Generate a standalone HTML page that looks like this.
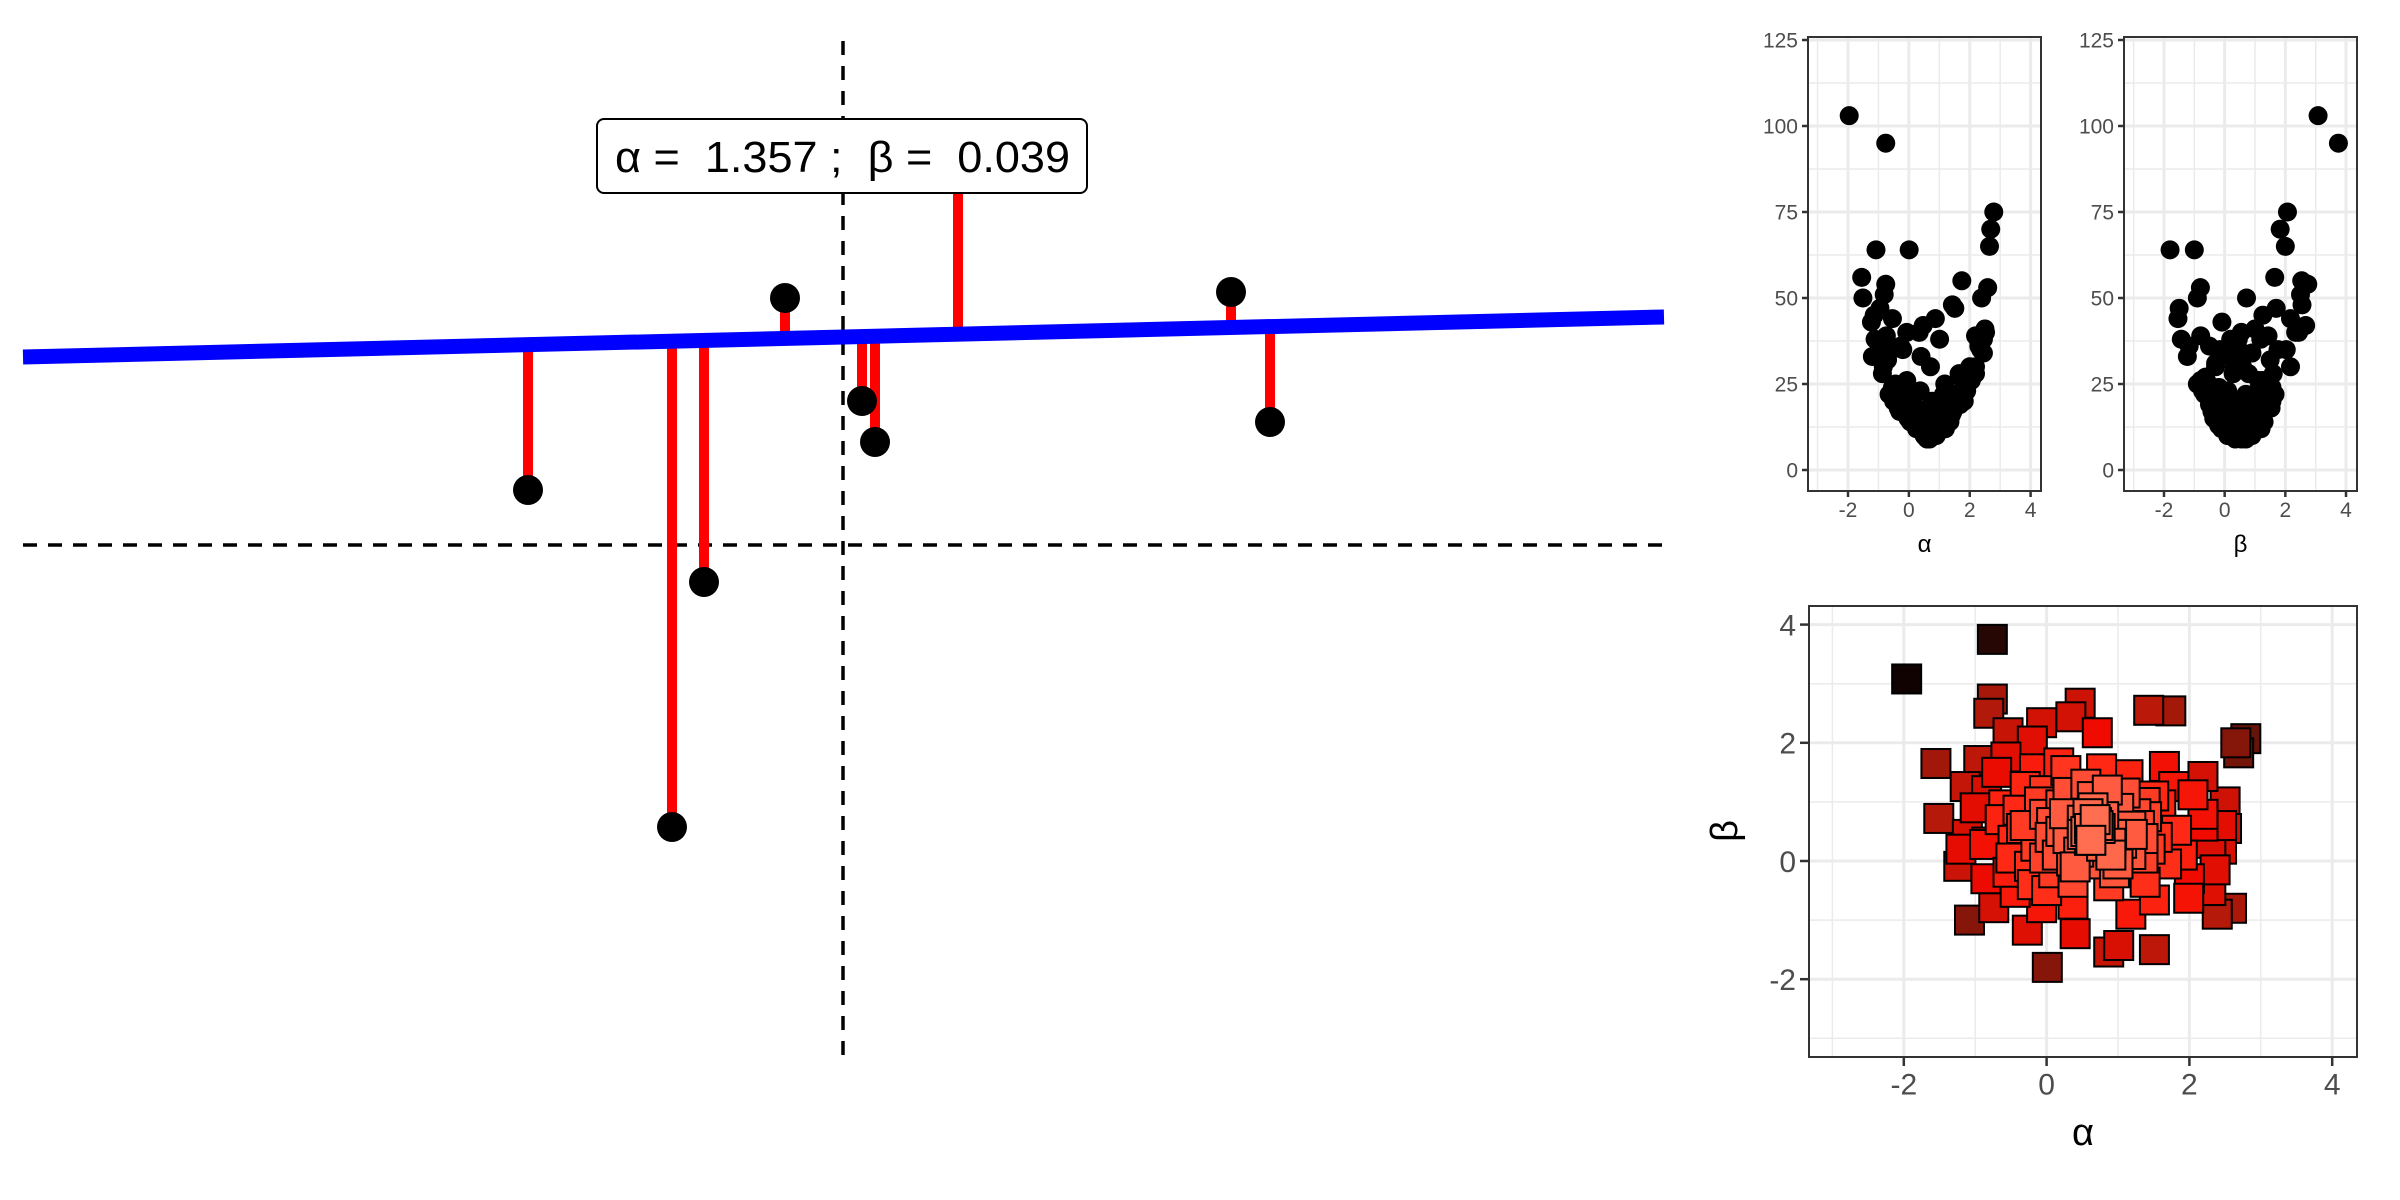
<!DOCTYPE html>
<html><head><meta charset="utf-8"><style>
html,body{margin:0;padding:0;background:#fff;}
svg{display:block;font-family:"Liberation Sans",sans-serif;}
</style></head><body>
<svg id="chart" width="2400" height="1200" viewBox="0 0 2400 1200">
<g id="main"></g>
<g id="pa"></g>
<g id="pb"></g>
<g id="pc"></g>
</svg>
<script>
// ---- main regression panel data ----
const obsX = [-3.15, -1.71, -1.39, -0.58, 0.19, 0.32, 1.15, 3.88, 4.27];
const obsY = [0.55, -2.82, -0.37, 2.47, 1.44, 1.03, 3.92, 2.53, 1.23];
const fitIntercept = 2.08;
const fitSlope = 0.0244;
const labelText = "α =  1.357 ;  β =  0.039";
// ---- parameter search data ----
const alphaVals = [-1.96,-0.76,2.79,2.69,2.65,-1.55,-1.51,-1.08,0.01,-0.76,-0.81,1.43,1.74,2.59,2.39,0.87,1.51,-1.23,-0.74,-0.27,0.40,1.01,2.19,2.36,2.52,2.19,-1.14,-0.84,-1.11,-0.84,-0.54,-0.20,-0.07,0.34,0.47,0.71,-0.57,1.65,1.78,1.14,0.77,0.17,-0.17,-0.03,0.30,-0.40,0.07,0.50,1.01,0.91,1.35,1.82,-0.47,-0.03,0.57,1.35,1.68,0.87,1.51,1.99,-0.44,-0.07,0.37,1.18,-0.54,-0.87,0.30,0.64,1.38,2.05,1.18,0.37,-0.24,0.27,1.18,-0.03,0.77,-0.30,2.19,1.38,2.45,2.50,2.30,-0.95,-1.20,0.60,0.70,0.55,
 -0.60,-0.35,-0.15,0.10,0.20,0.45,0.55,0.80,0.95,1.10,1.25,1.45,1.60,-0.50,-0.20,0.05,0.25,0.65,0.85,1.05,1.30,1.55,-0.65,-0.10,0.15,0.40,0.60,0.90,1.20,1.50,-0.30,0.00,0.35,0.75,1.00,1.40,0.50,0.68,0.20,0.90,-0.85,-1.00,2.00,2.30,2.45,-0.70,1.90,0.62,0.58,0.72];
const betaVals = [3.08,3.75,2.07,1.83,2.00,1.65,0.72,-1.00,-1.80,2.74,2.50,2.55,2.54,-0.80,-0.90,-1.54,-1.50,-0.09,-0.79,-1.17,-1.23,-1.43,1.43,-0.15,0.55,0.59,1.26,1.19,0.45,0.32,2.17,2.03,2.34,2.44,2.67,2.17,1.76,1.60,1.26,1.46,1.56,1.66,1.56,1.19,1.16,0.86,0.65,0.69,0.89,0.45,0.38,0.52,0.35,0.05,-0.05,0.05,-0.05,-0.42,-0.66,-0.63,-0.53,-0.79,-0.73,-0.90,-0.19,0.28,0.38,1.09,0.99,1.12,0.11,-0.36,-0.09,1.53,0.59,0.79,0.25,1.26,0.79,-0.36,0.20,1.00,-0.50,1.70,0.20,0.55,0.65,0.50,
 0.95,0.55,0.25,-0.20,0.95,0.15,1.30,0.75,-0.20,1.15,0.80,0.20,0.95,0.05,-0.40,0.40,0.80,0.90,1.20,0.30,0.60,0.40,0.70,1.00,0.10,-0.10,0.35,0.10,0.45,1.10,0.60,-0.50,0.00,0.55,-0.05,0.75,0.45,0.70,0.50,0.30,-0.30,0.90,-0.30,0.30,0.60,1.50,0.10,0.35,0.80,0.60];
const lossVals = [103,95,75,70,65,56,50,64,64,54,51,48,55,53,50,44,47,43,39,36,33,38,39,35,40,30,45,38,38,30,44,35,40,40,42,30,35,28,26,22,20,22,24,18,14,20,14,11,12,11,14,20,20,16,13,16,19,17,22,27,25,26,23,25,24,28,12,13,17,26,13,15,19,18,12,15,11,21,28,19,38,41,36,47,33,9,10,9.5,
 22,18,17,17,15,12,14,11,13,14,15,17,22,20,19,14,12,10,12,12,15,19,22,17,14,12,10,10,12,20,17,19,14,10,12,16,10,9,13,11,31,34,30,37,34,32,23,9,10,10];
const lossTicks = [0,25,50,75,100,125];
const paramTicks = [-2,0,2,4];

const NS="http://www.w3.org/2000/svg";
function mk(parent,tag,attrs){const e=document.createElementNS(NS,tag);for(const k in attrs)e.setAttribute(k,attrs[k]);parent.appendChild(e);return e;}

// ===== main panel =====
const M=document.getElementById('main');
const mx=v=>843+v*100, my=v=>545-v*100;
let e;
e=mk(M,'line',{x1:23,y1:545,x2:1664,y2:545,stroke:'#000','stroke-width':3.5,'stroke-dasharray':'14,11'});


e=mk(M,'line',{x1:843,y1:41,x2:843,y2:1056,stroke:'#000','stroke-width':3.5,'stroke-dasharray':'14,11'});


for(let i=0;i<obsX.length;i++){
  const fy=fitIntercept+fitSlope*obsX[i];
  e=mk(M,'line',{x1:mx(obsX[i]),y1:my(fy),x2:mx(obsX[i]),y2:my(obsY[i]),stroke:'#ff0000','stroke-width':10});
  
  
}
e=mk(M,'line',{x1:23,y1:my(fitIntercept+fitSlope*(23-843)/100),x2:1664,y2:my(fitIntercept+fitSlope*(1664-843)/100),stroke:'#0000ff','stroke-width':15});


for(let i=0;i<obsX.length;i++){
  e=mk(M,'circle',{cx:mx(obsX[i]),cy:my(obsY[i]),r:15,fill:'#000'});
  
  
}
e=mk(M,'rect',{x:597,y:119,width:490,height:74,rx:7,fill:'#fff',stroke:'#000','stroke-width':2});


e=mk(M,'text',{x:615,y:172,'font-size':44,fill:'#000','xml:space':'preserve',textLength:455,lengthAdjust:'spacingAndGlyphs'});
e.style.whiteSpace='pre';
e.textContent=labelText;



// ===== helper for framed panel =====
function panel(G,x0,x1,y0,y1,sx,sy,xt,yt,minorX,minorY,fs,tickLen){
  minorX.forEach(v=>{const l=mk(G,'line',{x1:sx(v),x2:sx(v),y1:y0,y2:y1,stroke:'#ebebeb','stroke-width':1.5});});
  minorY.forEach(v=>{const l=mk(G,'line',{x1:x0,x2:x1,y1:sy(v),y2:sy(v),stroke:'#ebebeb','stroke-width':1.5});});
  xt.forEach(v=>{const l=mk(G,'line',{x1:sx(v),x2:sx(v),y1:y0,y2:y1,stroke:'#ebebeb','stroke-width':3});});
  yt.forEach(v=>{const l=mk(G,'line',{x1:x0,x2:x1,y1:sy(v),y2:sy(v),stroke:'#ebebeb','stroke-width':3});});
  xt.forEach(v=>{
    const l=mk(G,'line',{x1:sx(v),x2:sx(v),y1:y1,y2:y1+tickLen,stroke:'#333','stroke-width':2.5});
    
    
    const t=mk(G,'text',{x:sx(v),y:y1+tickLen+fs*0.95,'text-anchor':'middle','font-size':fs,fill:'#4d4d4d'});
    t.textContent=v;
    
    
  });
  yt.forEach(v=>{
    const l=mk(G,'line',{x1:x0-tickLen,x2:x0,y1:sy(v),y2:sy(v),stroke:'#333','stroke-width':2.5});
    
    
    const t=mk(G,'text',{x:x0-tickLen-4,y:sy(v)+fs*0.36,'text-anchor':'end','font-size':fs,fill:'#4d4d4d'});
    t.textContent=v;
    
    
  });
}
function frame(G,x0,x1,y0,y1){
  const r=mk(G,'rect',{x:x0,y:y0,width:x1-x0,height:y1-y0,fill:'none',stroke:'#333','stroke-width':2});
  
  
}

// ===== loss vs alpha / beta =====
function lossPanel(id,x0,x1,tickNeg2,tick4,vals,title,tname){
  const G=document.getElementById(id);
  const y0=37,y1=491;
  const pu=(tick4-tickNeg2)/6;
  const sx=v=>tickNeg2+(v+2)*pu;
  const sy=v=>470-v*3.44;
  panel(G,x0,x1,y0,y1,sx,sy,paramTicks,lossTicks,[-3,-1,1,3],[12.5,37.5,62.5,87.5,112.5],21,6);
  for(let i=0;i<vals.length;i++){
    const c=mk(G,'circle',{cx:sx(vals[i]),cy:sy(lossVals[i]),r:9.5,fill:'#000'});
    
    
  }
  frame(G,x0,x1,y0,y1);
  const t=mk(G,'text',{x:(x0+x1)/2,y:552,'text-anchor':'middle','font-size':24,fill:'#000'});
  t.textContent=title;
  
  
}
lossPanel('pa',1808,2041,1848,2030.6,alphaVals,'α','alpha-axis-title');
lossPanel('pb',2124,2357,2164,2346,betaVals,'β','beta-axis-title');

// ===== alpha-beta scatter =====
(function(){
  const G=document.getElementById('pc');
  const x0=1809,x1=2357,y0=606,y1=1057;
  const sx=v=>2046.6+v*71.4;
  const sy=v=>861-v*59.1;
  panel(G,x0,x1,y0,y1,sx,sy,paramTicks,[-2,0,2,4],[-3,-1,1,3],[-3,-1,1,3],30,9);
  const stops=[[9,[255,110,80]],[20,[255,40,20]],[30,[240,10,0]],[50,[180,25,10]],[75,[100,20,10]],[103,[15,2,0]]];
  function col(l){
    for(let k=0;k<stops.length-1;k++){
      const a=stops[k],b=stops[k+1];
      if(l<=b[0]){const t=Math.max(0,(l-a[0])/(b[0]-a[0]));return 'rgb('+a[1].map((c,j)=>Math.round(c+(b[1][j]-c)*t)).join(',')+')';}
    }
    return 'rgb(15,2,0)';
  }
  const order=lossVals.map((_,i)=>i).sort((a,b)=>lossVals[b]-lossVals[a]);
  order.forEach(i=>{
    const s=29;
    const r=mk(G,'rect',{x:sx(alphaVals[i])-s/2,y:sy(betaVals[i])-s/2,width:s,height:s,fill:col(lossVals[i]),stroke:'#000','stroke-width':2});
    
    
  });
  frame(G,x0,x1,y0,y1);
  let t=mk(G,'text',{x:2083,y:1145,'text-anchor':'middle','font-size':38,fill:'#000'});
  t.textContent='α';
  
  
  t=mk(G,'text',{x:0,y:0,'text-anchor':'middle','font-size':38,fill:'#000',transform:'translate(1737,831) rotate(-90)'});
  t.textContent='β';
  
  
})();
</script>
</body></html>
